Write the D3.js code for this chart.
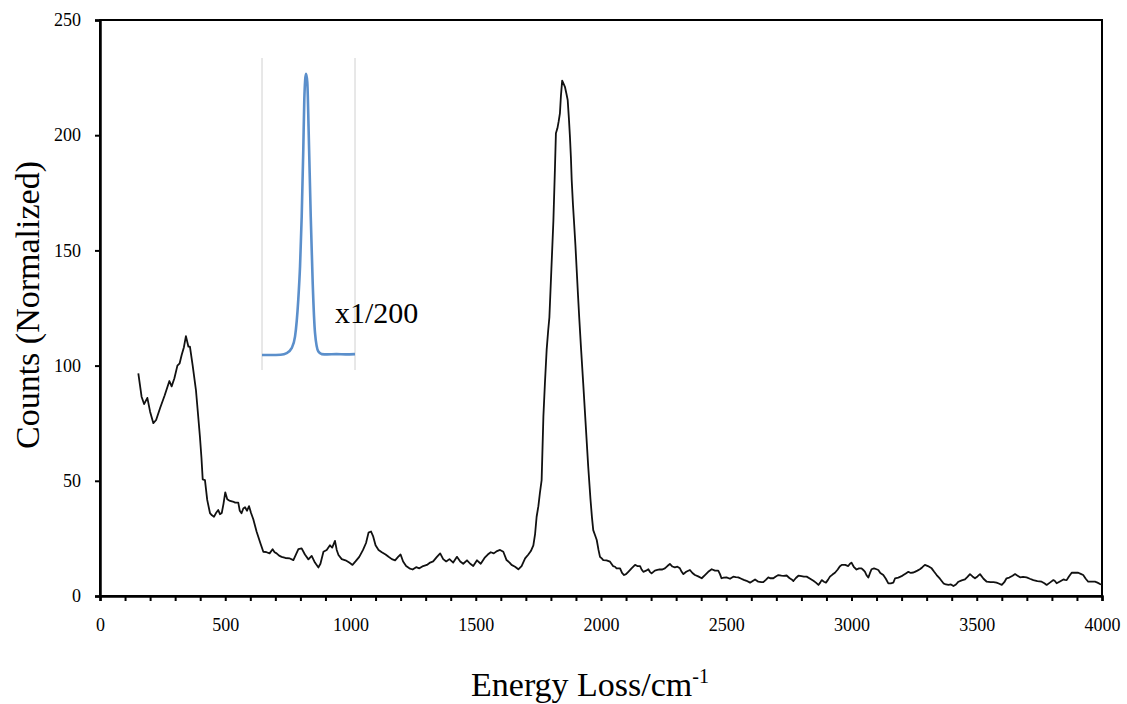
<!DOCTYPE html>
<html>
<head>
<meta charset="utf-8">
<script src="https://cdn.jsdelivr.net/npm/d3@7"></script>
<style>
html,body{margin:0;padding:0;background:#fff;}
svg{display:block;font-family:"Liberation Serif","Times New Roman",serif;}
</style>
</head>
<body>
<svg id="chart" width="1127" height="704"></svg>
<script>
// ---- Data ----
const energy = [153,166,176,189,200,213,224,240,258,277,286,297,309,318,326,335,343,353,359,370,383,392,399,405,410,419,428,439,447,455,463,472,479,486,493,500,508,516,530,540,552,558,565,572,579,587,595,603,612,625,640,652,665,677,689,697,705,715,725,740,758,772,782,792,805,818,832,845,858,872,880,892,905,918,927,938,945,952,965,980,995,1008,1020,1035,1050,1062,1072,1082,1090,1100,1112,1125,1140,1152,1165,1178,1190,1200,1210,1222,1235,1248,1262,1275,1290,1305,1318,1330,1345,1358,1370,1382,1395,1410,1425,1438,1450,1465,1478,1490,1505,1520,1535,1548,1560,1572,1585,1597,1610,1623,1635,1643,1657,1670,1683,1697,1710,1720,1730,1737,1743,1750,1756,1763,1770,1776,1783,1789,1794,1802,1810,1816,1820,1826,1831,1836,1840,1845,1850,1856,1862,1867,1872,1876,1880,1883,1888,1892,1898,1903,1908,1913,1920,1929,1938,1949,1958,1964,1969,1976,1983,1990,1996,2003,2009,2022,2036,2048,2056,2062,2076,2084,2092,2100,2109,2122,2136,2145,2156,2162,2169,2180,2189,2195,2202,2215,2225,2235,2245,2255,2265,2275,2285,2295,2305,2315,2322,2329,2340,2355,2365,2375,2388,2402,2415,2428,2442,2455,2468,2475,2481,2490,2501,2515,2528,2538,2548,2560,2570,2581,2595,2601,2615,2628,2640,2648,2658,2668,2675,2688,2698,2708,2720,2730,2741,2752,2761,2768,2778,2788,2800,2810,2821,2835,2848,2858,2868,2875,2881,2890,2898,2906,2914,2924,2934,2945,2953,2961,2975,2987,2994,3000,3010,3020,3030,3040,3047,3054,3060,3067,3074,3080,3090,3100,3107,3115,3127,3137,3147,3157,3167,3174,3187,3200,3207,3217,3227,3237,3247,3253,3263,3273,3283,3293,3305,3320,3330,3340,3353,3367,3377,3387,3397,3407,3417,3427,3440,3453,3463,3473,3483,3493,3503,3513,3527,3540,3555,3567,3579,3590,3600,3610,3619,3630,3643,3653,3663,3673,3685,3699,3712,3726,3742,3759,3770,3779,3792,3806,3812,3819,3832,3846,3852,3859,3868,3879,3892,3905,3915,3925,3935,3945,3958,3972,3982,3992,4000];
const counts = [96.6,86.5,83.3,86,80,75,76.4,81.6,87,93.3,91,94.5,100,101,104.6,108,112.8,108.2,108.2,100,89.4,78,69,60,50.6,50.3,41.7,36,35,34.4,36,37.3,35.5,36,40,45,42,41.4,41,40.5,40.5,37,35.9,38,38.5,37,39,36,33.3,28,23,19.2,19,18.5,20.3,19,18.5,17.5,17,16.5,16.3,15.6,18,20.3,20.7,18,15.9,17.4,14.5,12.4,14,19.2,20,22,21,23.9,20,17.8,16,15.5,14.5,13.5,15,17,20,23,27.5,28,26,22,20,19,18,17,16,15.5,17,18,15,13,12,11.5,12.5,12,13,13.5,14.5,15,17,18.5,16,15,16,14.5,17,15,14,15.5,14,13,15.5,14,16.5,18,19,18.5,19.5,20,19.2,15.6,14.5,13.5,12.7,11.6,13,16.3,18,19.5,22,27,34.4,39,44.6,50.3,77.8,92,106.8,115,121,142,163,185,200.8,203,206,209.5,217,223.7,222.5,221,218,215.3,207,199.4,190,180.6,170,163,152,141.5,131,121,108,92.3,76,56.1,42,34,28.6,26.5,24.3,20,17,16.3,15.6,15.5,14.9,13,12.7,12,12,10,9.1,9.5,10.5,12,13.5,13,13,11.5,10.5,11,11.6,10.5,9.8,11,11.3,11.6,11.5,12,13,13.9,12.8,12.4,12.7,12,10.5,9.5,10.5,11.3,10,9.1,8.5,7.7,9.1,10.5,11.6,11,11,9.5,7.7,8,8.1,7.5,8.4,8.2,8.1,7.5,7,6.6,5.8,6.2,7.2,6.2,6,6,7,8.1,7.7,7.7,8.5,9.1,8.8,8.7,8.9,7.8,7.2,6.5,7.8,8.8,8.6,8.4,8.4,7.5,6.6,5.8,4.8,5.8,6.9,6.2,5.8,7,8.4,9.3,10.1,11.5,12.8,13.5,13.5,13,14,14.5,12.5,11.5,12,12,11.3,10.5,9,8,10,11.6,12,11.6,11.3,10,9.1,7.5,5.5,5.5,5.8,7.7,8,8.6,9.1,9.8,10.5,10,10.2,10.5,11,11.6,12.5,13.5,13,12,10.5,9.1,7.5,5.5,5,4.8,5,4.3,5,6.2,6.8,7.2,8.3,9.5,8.5,7.7,8.5,9.5,7.5,6.2,6,6,5.8,5.3,4.8,6,7.7,8,8.8,9.5,8.8,8.1,8.3,8.1,7.5,6.9,6.5,6.2,5.5,4.8,5.8,6.9,6.5,5.5,6.3,7.2,7,6.9,8.5,10.1,10.1,10.1,9.6,9.1,7.5,6.2,6.2,6.2,5.8,5.2,5];

// inset: elastic peak (scaled x1/200), arbitrary units
const insetX = [0,10,20,26.6,31.9,35.5,39.0,40.9,42.7,44.4,45.5,47.3,48.7,50.2,52.4,54.5,57.0,60.6,64.2,70,80,90,100];
const insetY = [4.8,4.8,4.9,5.4,7.0,10.7,22.5,33.2,49.3,70.7,86.8,94.9,92.3,76.2,49.3,28,11.9,5.9,5.1,5.0,5.1,5.0,5.1];

const xTicks = [0,500,1000,1500,2000,2500,3000,3500,4000];
const xMinorTicks = d3.range(0, 4001, 100);
const yTicks = [0,50,100,150,200,250];
const insetLabel = "x1/200";

// ---- Layout ----
const svg = d3.select("#chart");
const M = {left:100, right:1102, top:20, bottom:596};

const x = d3.scaleLinear().domain([0,4000]).range([M.left, M.right]);
const y = d3.scaleLinear().domain([0,250]).range([M.bottom, M.top]);

// frame (top/right)
svg.append("rect")
  .attr("x", M.left).attr("y", M.top)
  .attr("width", M.right-M.left).attr("height", M.bottom-M.top)
  .attr("fill","none").attr("stroke","#000").attr("stroke-width",2);

// x axis
const gx = svg.append("g").attr("transform",`translate(0,${M.bottom})`);
gx.call(d3.axisBottom(x).tickValues(xMinorTicks).tickSize(5).tickFormat(""));
gx.select(".domain").attr("stroke-width",2.5);
gx.selectAll(".tick line").attr("stroke-width",2);
const gxl = svg.append("g").attr("transform",`translate(0,${M.bottom})`);
gxl.call(d3.axisBottom(x).tickValues(xTicks).tickSize(0).tickPadding(22).tickFormat(d3.format("d")));
gxl.select(".domain").remove();
gxl.selectAll("text").attr("font-family","Liberation Serif").attr("font-size",18).attr("fill","#000");

// y axis
const gy = svg.append("g").attr("transform",`translate(${M.left},0)`);
gy.call(d3.axisLeft(y).tickValues(yTicks).tickSize(5).tickPadding(14).tickFormat(d3.format("d")));
gy.select(".domain").attr("stroke-width",2.5);
gy.selectAll(".tick line").attr("stroke-width",2);
gy.selectAll("text").attr("font-family","Liberation Serif").attr("font-size",18).attr("fill","#000");

// main line
const data = energy.map((e,i)=>({e, c:counts[i]}));
svg.append("path").datum(data)
  .attr("fill","none").attr("stroke","#111").attr("stroke-width",1.8)
  .attr("stroke-linejoin","round")
  .attr("d", d3.line().x(d=>x(d.e)).y(d=>y(d.c)));

// inset
const ix = d3.scaleLinear().domain([0,100]).range([262,355]);
const iy = d3.scaleLinear().domain([0,100]).range([370,58]);
const ig = svg.append("g");
ig.append("line").attr("x1",ix(0)).attr("x2",ix(0)).attr("y1",iy(0)).attr("y2",iy(100))
  .attr("stroke","#d0d0d0").attr("stroke-width",1);
ig.append("line").attr("x1",ix(100)).attr("x2",ix(100)).attr("y1",iy(0)).attr("y2",iy(100))
  .attr("stroke","#d0d0d0").attr("stroke-width",1);
const idata = insetX.map((v,i)=>({v, c:insetY[i]}));
ig.append("path").datum(idata)
  .attr("fill","none").attr("stroke","#5b8fcb").attr("stroke-width",2.6)
  .attr("d", d3.line().curve(d3.curveMonotoneX).x(d=>ix(d.v)).y(d=>iy(d.c)));
ig.append("text").attr("x",335).attr("y",323)
  .attr("font-family","Liberation Serif").attr("font-size",30).attr("fill","#000")
  .text(insetLabel);

// axis titles
svg.append("text")
  .attr("transform","translate(39,305) rotate(-90)")
  .attr("text-anchor","middle")
  .attr("font-family","Liberation Serif").attr("font-size",34).attr("fill","#000")
  .text("Counts (Normalized)");
const xt = svg.append("text")
  .attr("x",590).attr("y",696)
  .attr("text-anchor","middle")
  .attr("font-family","Liberation Serif").attr("font-size",34).attr("fill","#000");
xt.append("tspan").text("Energy Loss/cm");
xt.append("tspan").attr("font-size",20).attr("dy",-13).text("-1");
</script>
</body>
</html>
